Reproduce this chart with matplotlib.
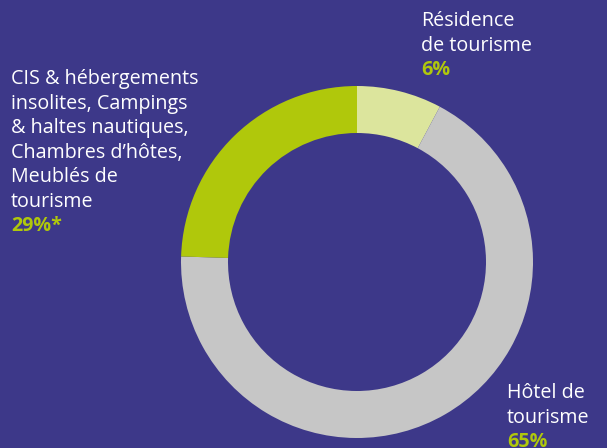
import matplotlib.pyplot as plt

# shares as drawn on the ring (clockwise from 12 o'clock)
categories = ["Résidence de tourisme", "Hôtel de tourisme", "CIS & hébergements insolites, ..."]
shares = [7.8, 67.7, 24.5]
colors = ["#dce59d", "#c6c6c6", "#b0c80b"]

label_residence = ["Résidence", "de tourisme"]
pct_residence = "6%"
label_hotel = ["Hôtel de", "tourisme"]
pct_hotel = "65%"
label_cis = ["CIS & hébergements", "insolites, Campings", "& haltes nautiques,",
             "Chambres d’hôtes,", "Meublés de", "tourisme"]
pct_cis = "29%*"

BG = "#3d3889"
GREEN = "#b0c80b"
FONT = "Open Sans"
W, H = 607, 448

fig = plt.figure(figsize=(W / 100, H / 100), dpi=100, facecolor=BG)
ax = fig.add_axes((0, 0, 1, 1))
ax.set_facecolor(BG)

ax.pie(shares, colors=colors, startangle=90, counterclock=False,
       center=(357, H - 262), radius=176,
       wedgeprops=dict(width=47, linewidth=0))

ax.set_xlim(0, W)
ax.set_ylim(0, H)
ax.set_aspect("equal")
ax.axis("off")


def block(x, y0, lines, pct, step=24.5):
    # y0 = baseline of first line, in pixels from the top
    for i, line in enumerate(lines):
        ax.text(x, H - (y0 + i * step), line, color="white", fontsize=14.2,
                family=FONT, va="baseline", ha="left")
    ax.text(x, H - (y0 + len(lines) * step), pct, color=GREEN, fontsize=14.2,
            family=FONT, weight="bold", va="baseline", ha="left")


block(421, 26, label_residence, pct_residence)
block(11, 84, label_cis, pct_cis)
block(507, 398, label_hotel, pct_hotel)

fig.savefig("out.png", dpi=100, facecolor=BG)
